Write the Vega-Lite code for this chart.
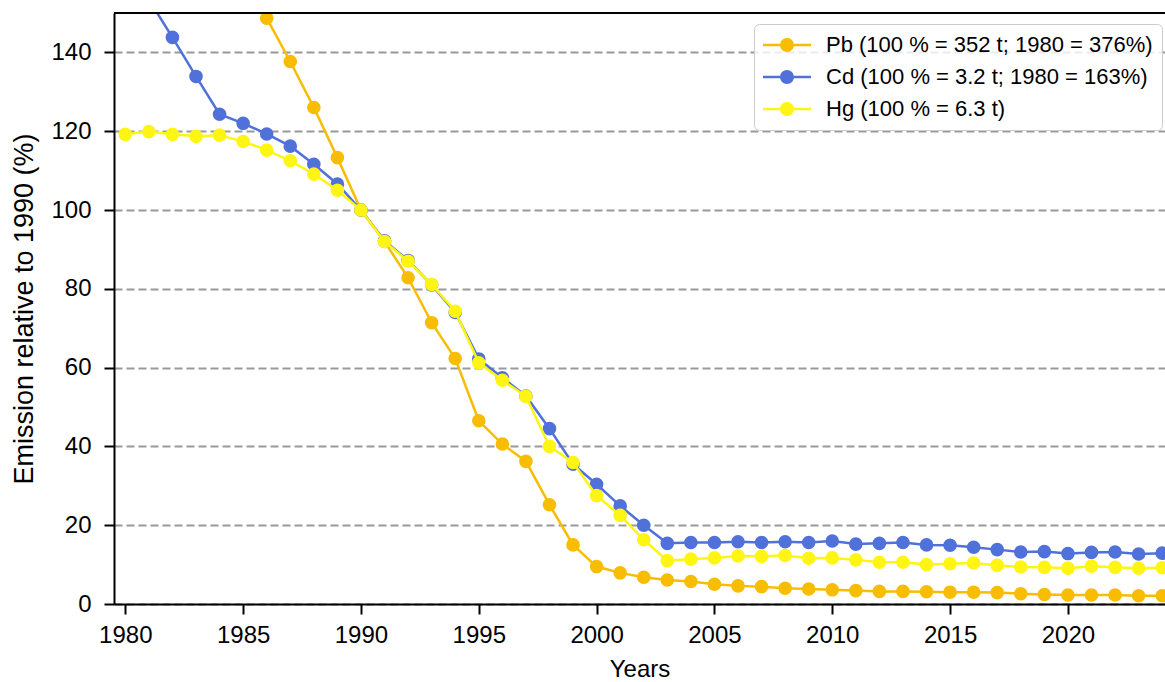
{
  "$schema": "https://vega.github.io/schema/vega-lite/v6.json",
  "width": 1051,
  "height": 591,
  "autosize": {"type": "none"},
  "padding": {"left": 114, "top": 13, "right": 0, "bottom": 78},
  "background": "white",
  "config": {
    "font": "Liberation Sans",
    "view": {"stroke": null},
    "axis": {
      "domainColor": "black", "domainWidth": 2,
      "tickColor": "black", "tickWidth": 2, "tickSize": 10,
      "labelFont": "Liberation Sans", "labelFontSize": 24, "labelColor": "black",
      "titleFont": "Liberation Sans", "titleFontSize": 24, "titleFontWeight": "normal", "titleColor": "black"
    },
    "legend": {
      "labelFont": "Liberation Sans", "labelFontSize": 22, "labelColor": "black", "labelLimit": 0
    }
  },
  "data": {"values": [
    {"year":1980,"metal":"Pb","value":376},{"year":1981,"metal":"Pb","value":340},{"year":1982,"metal":"Pb","value":300},{"year":1983,"metal":"Pb","value":250},{"year":1984,"metal":"Pb","value":205},{"year":1985,"metal":"Pb","value":166},{"year":1986,"metal":"Pb","value":148.7},{"year":1987,"metal":"Pb","value":137.7},{"year":1988,"metal":"Pb","value":126.0},{"year":1989,"metal":"Pb","value":113.3},{"year":1990,"metal":"Pb","value":100},{"year":1991,"metal":"Pb","value":92.0},{"year":1992,"metal":"Pb","value":82.8},{"year":1993,"metal":"Pb","value":71.4},{"year":1994,"metal":"Pb","value":62.3},{"year":1995,"metal":"Pb","value":46.5},{"year":1996,"metal":"Pb","value":40.6},{"year":1997,"metal":"Pb","value":36.2},{"year":1998,"metal":"Pb","value":25.2},{"year":1999,"metal":"Pb","value":15.0},{"year":2000,"metal":"Pb","value":9.5},{"year":2001,"metal":"Pb","value":7.9},{"year":2002,"metal":"Pb","value":6.8},{"year":2003,"metal":"Pb","value":6.1},{"year":2004,"metal":"Pb","value":5.7},{"year":2005,"metal":"Pb","value":5.0},{"year":2006,"metal":"Pb","value":4.6},{"year":2007,"metal":"Pb","value":4.4},{"year":2008,"metal":"Pb","value":4.0},{"year":2009,"metal":"Pb","value":3.8},{"year":2010,"metal":"Pb","value":3.6},{"year":2011,"metal":"Pb","value":3.4},{"year":2012,"metal":"Pb","value":3.2},{"year":2013,"metal":"Pb","value":3.2},{"year":2014,"metal":"Pb","value":3.1},{"year":2015,"metal":"Pb","value":3.0},{"year":2016,"metal":"Pb","value":3.0},{"year":2017,"metal":"Pb","value":2.9},{"year":2018,"metal":"Pb","value":2.6},{"year":2019,"metal":"Pb","value":2.4},{"year":2020,"metal":"Pb","value":2.3},{"year":2021,"metal":"Pb","value":2.3},{"year":2022,"metal":"Pb","value":2.3},{"year":2023,"metal":"Pb","value":2.1},{"year":2024,"metal":"Pb","value":2.1},
    {"year":1980,"metal":"Cd","value":163},{"year":1981,"metal":"Cd","value":153.4},{"year":1982,"metal":"Cd","value":143.8},{"year":1983,"metal":"Cd","value":133.9},{"year":1984,"metal":"Cd","value":124.3},{"year":1985,"metal":"Cd","value":122.0},{"year":1986,"metal":"Cd","value":119.3},{"year":1987,"metal":"Cd","value":116.2},{"year":1988,"metal":"Cd","value":111.6},{"year":1989,"metal":"Cd","value":106.6},{"year":1990,"metal":"Cd","value":100},{"year":1991,"metal":"Cd","value":92.2},{"year":1992,"metal":"Cd","value":87.2},{"year":1993,"metal":"Cd","value":81.0},{"year":1994,"metal":"Cd","value":74.0},{"year":1995,"metal":"Cd","value":62.2},{"year":1996,"metal":"Cd","value":57.4},{"year":1997,"metal":"Cd","value":52.8},{"year":1998,"metal":"Cd","value":44.5},{"year":1999,"metal":"Cd","value":35.5},{"year":2000,"metal":"Cd","value":30.4},{"year":2001,"metal":"Cd","value":24.9},{"year":2002,"metal":"Cd","value":20.0},{"year":2003,"metal":"Cd","value":15.4},{"year":2004,"metal":"Cd","value":15.6},{"year":2005,"metal":"Cd","value":15.6},{"year":2006,"metal":"Cd","value":15.8},{"year":2007,"metal":"Cd","value":15.6},{"year":2008,"metal":"Cd","value":15.8},{"year":2009,"metal":"Cd","value":15.6},{"year":2010,"metal":"Cd","value":16.0},{"year":2011,"metal":"Cd","value":15.2},{"year":2012,"metal":"Cd","value":15.4},{"year":2013,"metal":"Cd","value":15.6},{"year":2014,"metal":"Cd","value":15.0},{"year":2015,"metal":"Cd","value":14.9},{"year":2016,"metal":"Cd","value":14.4},{"year":2017,"metal":"Cd","value":13.8},{"year":2018,"metal":"Cd","value":13.2},{"year":2019,"metal":"Cd","value":13.3},{"year":2020,"metal":"Cd","value":12.8},{"year":2021,"metal":"Cd","value":13.1},{"year":2022,"metal":"Cd","value":13.2},{"year":2023,"metal":"Cd","value":12.7},{"year":2024,"metal":"Cd","value":12.9},
    {"year":1980,"metal":"Hg","value":119.2},{"year":1981,"metal":"Hg","value":119.9},{"year":1982,"metal":"Hg","value":119.2},{"year":1983,"metal":"Hg","value":118.7},{"year":1984,"metal":"Hg","value":119.0},{"year":1985,"metal":"Hg","value":117.4},{"year":1986,"metal":"Hg","value":115.2},{"year":1987,"metal":"Hg","value":112.5},{"year":1988,"metal":"Hg","value":109.1},{"year":1989,"metal":"Hg","value":105.0},{"year":1990,"metal":"Hg","value":100},{"year":1991,"metal":"Hg","value":92.0},{"year":1992,"metal":"Hg","value":87.0},{"year":1993,"metal":"Hg","value":81.1},{"year":1994,"metal":"Hg","value":74.3},{"year":1995,"metal":"Hg","value":61.2},{"year":1996,"metal":"Hg","value":56.8},{"year":1997,"metal":"Hg","value":52.7},{"year":1998,"metal":"Hg","value":40.0},{"year":1999,"metal":"Hg","value":35.9},{"year":2000,"metal":"Hg","value":27.5},{"year":2001,"metal":"Hg","value":22.5},{"year":2002,"metal":"Hg","value":16.3},{"year":2003,"metal":"Hg","value":11.0},{"year":2004,"metal":"Hg","value":11.4},{"year":2005,"metal":"Hg","value":11.7},{"year":2006,"metal":"Hg","value":12.2},{"year":2007,"metal":"Hg","value":12.1},{"year":2008,"metal":"Hg","value":12.3},{"year":2009,"metal":"Hg","value":11.6},{"year":2010,"metal":"Hg","value":11.7},{"year":2011,"metal":"Hg","value":11.2},{"year":2012,"metal":"Hg","value":10.6},{"year":2013,"metal":"Hg","value":10.6},{"year":2014,"metal":"Hg","value":10.0},{"year":2015,"metal":"Hg","value":10.2},{"year":2016,"metal":"Hg","value":10.4},{"year":2017,"metal":"Hg","value":9.8},{"year":2018,"metal":"Hg","value":9.4},{"year":2019,"metal":"Hg","value":9.3},{"year":2020,"metal":"Hg","value":9.1},{"year":2021,"metal":"Hg","value":9.6},{"year":2022,"metal":"Hg","value":9.3},{"year":2023,"metal":"Hg","value":9.1},{"year":2024,"metal":"Hg","value":9.2}
  ]},
  "transform": [
    {"lookup": "metal", "from": {"data": {"values": [
      {"metal": "Pb", "series": "Pb (100 % = 352 t; 1980 = 376%)"},
      {"metal": "Cd", "series": "Cd (100 % = 3.2 t; 1980 = 163%)"},
      {"metal": "Hg", "series": "Hg (100 % = 6.3 t)"}
    ]}, "key": "metal", "fields": ["series"]}}
  ],
  "encoding": {
    "x": {"field": "year", "type": "quantitative",
      "scale": {"domain": [1979.52, 2024.12], "nice": false, "zero": false},
      "axis": {"values": [1980,1985,1990,1995,2000,2005,2010,2015,2020], "format": "d", "grid": false, "title": "Years", "labelPadding": 9, "titlePadding": 10, "labelFlush": false}},
    "y": {"field": "value", "type": "quantitative",
      "scale": {"domain": [0, 150], "nice": false},
      "axis": {"values": [0,20,40,60,80,100,120,140], "grid": true, "gridColor": "#999999", "gridDash": [8,4], "gridWidth": 2,
        "title": "Emission relative to 1990 (%)", "titleFontSize": 27, "labelPadding": 13, "titlePadding": 12}}
  },
  "layer": [
    {"transform": [{"filter": "datum.metal === 'Pb'"}], "mark": {"type": "line", "strokeWidth": 2.5, "clip": true, "color": "#f8bc00"}},
    {"transform": [{"filter": "datum.metal === 'Pb'"}], "mark": {"type": "point", "filled": true, "size": 185, "opacity": 1, "clip": true},
     "encoding": {"color": {"field": "series", "type": "nominal",
        "scale": {"domain": ["Pb (100 % = 352 t; 1980 = 376%)", "Cd (100 % = 3.2 t; 1980 = 163%)", "Hg (100 % = 6.3 t)"], "range": ["#f8bc00", "#4f71d9", "#fff512"]},
        "legend": {"title": null, "orient": "none", "legendX": 640, "legendY": 11,
          "padding": 9, "rowPadding": 8, "labelOffset": 15, "clipHeight": 24, "labelLimit": 0,
          "strokeColor": "#cccccc", "cornerRadius": 5, "fillColor": "rgba(255,255,255,0.8)",
          "symbolType": "M-1,-0.05L-0.29,-0.05L-0.29,0.05L-1,0.05Z M0.29,-0.05L1,-0.05L1,0.05L0.29,0.05Z M-0.29,0A0.29,0.29,0,1,1,0.29,0A0.29,0.29,0,1,1,-0.29,0Z",
          "symbolSize": 2304, "symbolStrokeWidth": 0, "symbolOpacity": 1}}}},
    {"transform": [{"filter": "datum.metal === 'Cd'"}], "mark": {"type": "line", "strokeWidth": 2.5, "clip": true, "color": "#4f71d9"}},
    {"transform": [{"filter": "datum.metal === 'Cd'"}], "mark": {"type": "point", "filled": true, "size": 185, "opacity": 1, "clip": true},
     "encoding": {"color": {"field": "series", "type": "nominal"}}},
    {"transform": [{"filter": "datum.metal === 'Hg'"}], "mark": {"type": "line", "strokeWidth": 2.5, "clip": true, "color": "#fff512"}},
    {"transform": [{"filter": "datum.metal === 'Hg'"}], "mark": {"type": "point", "filled": true, "size": 185, "opacity": 1, "clip": true},
     "encoding": {"color": {"field": "series", "type": "nominal"}}},
    {"mark": {"type": "rule", "color": "black", "strokeWidth": 2}, "encoding": {"y": {"datum": 150}, "x": null}}
  ]
}
